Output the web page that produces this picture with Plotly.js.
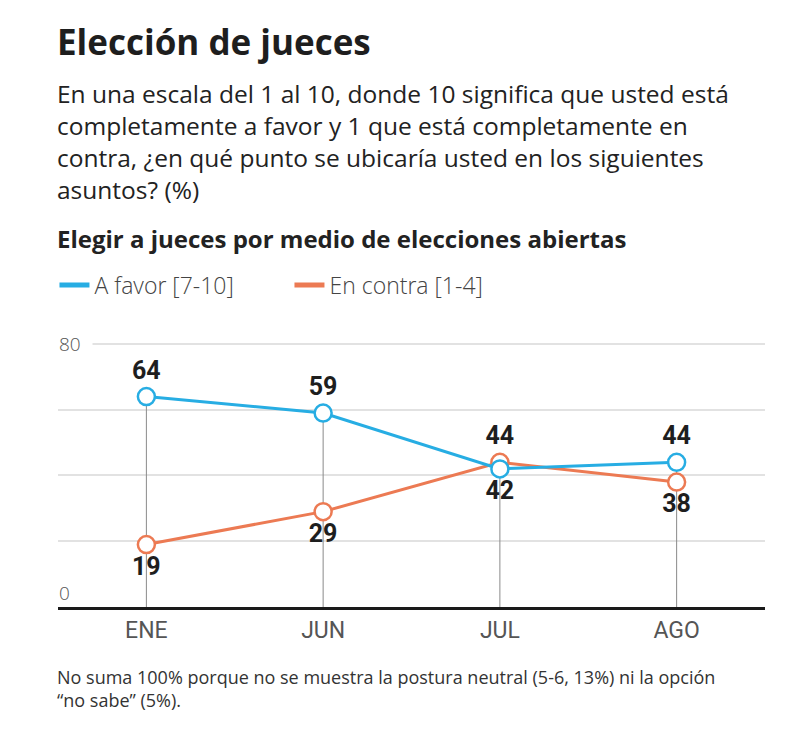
<!DOCTYPE html>
<html>
<head>
<meta charset="utf-8">
<script src="https://cdn.plot.ly/plotly-3.0.1.min.js"></script>
<style>
  html, body { margin: 0; padding: 0; background: #fff; }
  #chart { width: 798px; height: 730px; }
</style>
</head>
<body>
<div id="chart"></div>
<script>
// ---- data ----
const months = ["ENE", "JUN", "JUL", "AGO"];
const aFavor = [64, 59, 42, 44];
const enContra = [19, 29, 44, 38];
const seriesNames = ["A favor [7-10]", "En contra [1-4]"];
const yTickLabels = ["0", "80"];

const title = "Elección de jueces";
const subtitle = "En una escala del 1 al 10, donde 10 significa que usted está<br>completamente a favor y 1 que está completamente en<br>contra, ¿en qué punto se ubicaría usted en los siguientes<br>asuntos? (%)";
const chartHeading = "Elegir a jueces por medio de elecciones abiertas";
const footnote = "No suma 100% porque no se muestra la postura neutral (5-6, 13%) ni la opción<br>“no sabe” (5%).";

// ---- styles ----
const BLUE = "#27ade3";
const ORANGE = "#ec7a53";
const LABEL_FONT = "'Liberation Sans Narrow', 'Roboto', sans-serif";
const TEXT_FONT = "'Open Sans', Lato, sans-serif";

// drop lines from top marker to baseline
const dropX = [], dropY = [];
months.forEach((m, i) => {
  dropX.push(m, m, null);
  dropY.push(0, Math.max(aFavor[i], enContra[i]), null);
});

const blueTextPos = aFavor.map((v, i) => v >= enContra[i] ? "top center" : "bottom center");
const orangeTextPos = enContra.map((v, i) => v > aFavor[i] ? "top center" : "bottom center");

const traces = [
  {
    x: dropX, y: dropY, mode: "lines", type: "scatter",
    line: { color: "#8a8a8a", width: 1 },
    hoverinfo: "skip", showlegend: false, cliponaxis: false
  },
  {
    x: months, y: enContra, mode: "lines+markers+text", type: "scatter",
    name: seriesNames[1], showlegend: false,
    line: { color: ORANGE, width: 3 },
    marker: { symbol: "circle", size: 17, color: "#fff", line: { color: ORANGE, width: 2.5 } },
    text: enContra.map(String), textposition: orangeTextPos,
    textfont: { family: LABEL_FONT, size: 25, color: "#1e1e1e", weight: "bold" },
    cliponaxis: false
  },
  {
    x: months, y: aFavor, mode: "lines+markers+text", type: "scatter",
    name: seriesNames[0], showlegend: false,
    line: { color: BLUE, width: 3 },
    marker: { symbol: "circle", size: 17, color: "#fff", line: { color: BLUE, width: 2.5 } },
    text: aFavor.map(String), textposition: blueTextPos,
    textfont: { family: LABEL_FONT, size: 25, color: "#1e1e1e", weight: "bold" },
    cliponaxis: false
  },
  // legend-only entries
  { x: [null], y: [null], mode: "lines", type: "scatter", name: seriesNames[0],
    line: { color: BLUE, width: 5 }, showlegend: true, legendrank: 1 },
  { x: [null], y: [null], mode: "lines", type: "scatter", name: seriesNames[1],
    line: { color: ORANGE, width: 5 }, showlegend: true, legendrank: 2 }
];

// plot area: y=0 at 607px, y=80 at 344px
const yMax = 80.6;
const plotBottom = 607;
const plotTop = Math.round(plotBottom - (607 - 344) * yMax / 80);
const H = plotBottom - plotTop;
const py = (pix) => (plotBottom - pix) / H; // pixel -> paper y

const layout = {
  width: 798, height: 730,
  margin: { l: 58, r: 33, t: plotTop, b: 730 - plotBottom },
  paper_bgcolor: "#fff", plot_bgcolor: "#fff",
  showlegend: true,
  legend: {
    orientation: "h", x: -0.005, xanchor: "left", y: py(285), yanchor: "middle",
    font: { family: TEXT_FONT, size: 23, color: "#444", weight: 300 },
    entrywidth: 190, entrywidthmode: "pixels", itemwidth: 30,
    traceorder: "normal", bgcolor: "rgba(0,0,0,0)"
  },
  xaxis: {
    type: "category", range: [-0.5, 3.5], fixedrange: true,
    showgrid: false, zeroline: false,
    showline: true, linecolor: "#1a1a1a", linewidth: 3,
    ticks: "", ticklabelstandoff: 0,
    tickfont: { family: LABEL_FONT, size: 23, color: "#555" }
  },
  yaxis: {
    range: [0, yMax], fixedrange: true,
    tickvals: [20, 40, 60, 80], showticklabels: false,
    showgrid: true, gridcolor: "#e2e2e2", gridwidth: 2,
    zeroline: false, showline: false
  },
  annotations: [
    { xref: "paper", yref: "paper", x: -0.004, y: py(41), xanchor: "left", yanchor: "middle",
      text: "<b>" + title + "</b>", showarrow: false,
      font: { family: TEXT_FONT, size: 35, color: "#1e1e1e" } },
    { xref: "paper", yref: "paper", x: -0.004, y: py(141), xanchor: "left", yanchor: "middle",
      text: subtitle, showarrow: false, align: "left",
      font: { family: TEXT_FONT, size: 24.5, color: "#222", weight: 500 } },
    { xref: "paper", yref: "paper", x: -0.004, y: py(238), xanchor: "left", yanchor: "middle",
      text: "<b>" + chartHeading + "</b>", showarrow: false,
      font: { family: TEXT_FONT, size: 24, color: "#222" } },
    { xref: "paper", yref: "paper", x: -0.004, y: py(688), xanchor: "left", yanchor: "middle",
      text: footnote, showarrow: false, align: "left",
      font: { family: TEXT_FONT, size: 18, color: "#333" } },
    { xref: "paper", yref: "y", x: -0.002, y: 80, xanchor: "left", yanchor: "middle",
      text: yTickLabels[1], showarrow: false, bgcolor: "#fff", width: 32, align: "left",
      font: { family: TEXT_FONT, size: 19, color: "#555", weight: 300 } },
    { xref: "paper", yref: "y", x: -0.002, y: 0, xanchor: "left", yanchor: "bottom", yshift: -1,
      text: yTickLabels[0], showarrow: false, align: "left",
      font: { family: TEXT_FONT, size: 19, color: "#555", weight: 300 } }
  ]
};

Plotly.newPlot("chart", traces, layout, { displayModeBar: false, staticPlot: true });
</script>
</body>
</html>
